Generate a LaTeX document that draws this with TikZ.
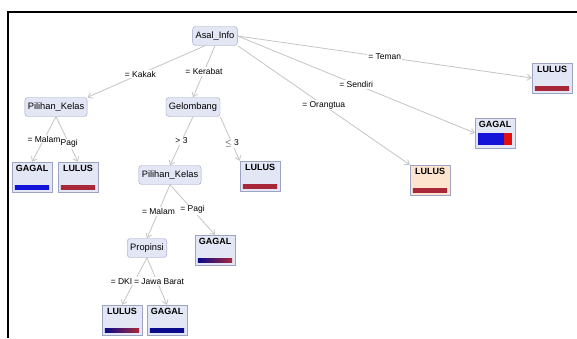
\documentclass[tikz,border=0pt]{standalone}
\usepackage{fontspec}
\setmainfont{Liberation Sans}
\definecolor{wkfill}{HTML}{E3E6F4}
\definecolor{wkdraw}{HTML}{9EA3C4}
\definecolor{wkedge}{HTML}{C4C4C4}
\definecolor{wkpeach}{HTML}{FCE4CF}
\definecolor{wknavy}{HTML}{0A0A8C}
\definecolor{wkblue}{HTML}{1414D8}
\definecolor{wkred}{HTML}{A8283A}
\definecolor{wkbrick}{HTML}{E01010}
\usetikzlibrary{arrows.meta}
\newcommand{\leafbar}[3]{%
  \shade[left color=#2, right color=#3] ([xshift=3pt,yshift=3pt]#1.south west)
    rectangle ([xshift=-3pt,yshift=7pt]#1.south east);}

\begin{document}
\begin{tikzpicture}[
  x=1pt, y=-1pt,
  split/.style={rounded corners=3pt, draw=wkdraw, fill=wkfill,
    font=\fontsize{9.3}{11}\selectfont, minimum height=19pt, inner xsep=3pt},
  leaf/.style={draw=wkdraw, fill=wkfill, font=\fontsize{9}{10}\selectfont\bfseries,
    minimum width=40pt, text height=7pt, text depth=19pt, inner ysep=2pt, inner xsep=2pt},
  lbl/.style={font=\fontsize{8.5}{9}\selectfont, fill=white, inner sep=1pt},
  arr/.style={draw=wkedge, line width=0.8pt, -{Straight Barb[length=4pt, width=6pt]}}
]
  \useasboundingbox (0,0) rectangle (577,338);
  \draw[line width=2pt] (8,338) -- (8,12) -- (577,12);

  % Splits
  \node[split] (asal) at (215,36) {Asal\_Info};
  \node[split] (pk1) at (56,107) {Pilihan\_Kelas};
  \node[split] (gel) at (193,107) {Gelombang};
  \node[split] (pk2) at (170,175) {Pilihan\_Kelas};
  \node[split] (prop) at (147,248) {Propinsi};

  % Leaves
  \node[leaf] (g1) at (32,177) {GAGAL};
  \node[leaf] (l1) at (78,177) {LULUS};
  \node[leaf] (l2) at (260,176) {LULUS};
  \node[leaf] (g2) at (215,250) {GAGAL};
  \node[leaf] (l3) at (122,320) {LULUS};
  \node[leaf] (g3) at (167,320) {GAGAL};
  \node[leaf] (l4) at (552,78) {LULUS};
  \node[leaf] (g4) at (495,133) {GAGAL};
  \node[leaf, fill=wkpeach] (l5) at (430,180) {LULUS};

  % Class bars
  \leafbar{g1}{wkblue}{wkblue}
  \leafbar{l1}{wkred}{wkred}
  \leafbar{l2}{wkred}{wkred}
  \leafbar{g2}{wknavy}{wkred}
  \leafbar{l3}{wknavy}{wkred}
  \leafbar{g3}{wknavy}{wknavy}
  \leafbar{l4}{wkred}{wkred}
  \leafbar{l5}{wkred}{wkred}
  \fill[wkblue] ([xshift=3pt,yshift=3pt]g4.south west) rectangle ([xshift=-11pt,yshift=15pt]g4.south east);
  \fill[wkbrick] ([xshift=-11pt,yshift=3pt]g4.south east) rectangle ([xshift=-3pt,yshift=15pt]g4.south east);

  % Branches
  \draw[arr] ([xshift=-10pt]asal.south) -- node[lbl, pos=0.55] {= Kakak} (pk1.north east);
  \draw[arr] (asal.south) -- node[lbl, pos=0.5] {= Kerabat} (gel.north);
  \draw[arr] (asal.east) -- node[lbl, pos=0.5] {= Teman} (l4.west);
  \draw[arr] (asal.east) -- node[lbl, pos=0.5] {= Sendiri} (g4.west);
  \draw[arr] (asal.south east) -- node[lbl, pos=0.5] {= Orangtua} (l5.north west);

  \draw[arr] (pk1.south) -- node[lbl, pos=0.5] {= Malam} (g1.north);
  \draw[arr] (pk1.south) -- node[lbl, pos=0.6] {Pagi} (l1.north);

  \draw[arr] (gel.south) -- node[lbl, pos=0.5] {> 3} (pk2.north);
  \draw[arr] (gel.south east) -- node[lbl, pos=0.6] {$\le$ 3} (l2.north west);

  \draw[arr] (pk2.south) -- node[lbl, pos=0.5] {= Malam} (prop.north);
  \draw[arr] (pk2.south) -- node[lbl, pos=0.5] {= Pagi} (g2.north);

  \draw[arr] (prop.south) -- node[lbl, pos=0.5, xshift=-13pt] {= DKI} (l3.north);
  \draw[arr] (prop.south) -- node[lbl, pos=0.5, xshift=2pt] {= Jawa Barat} (g3.north);
\end{tikzpicture}
\end{document}
